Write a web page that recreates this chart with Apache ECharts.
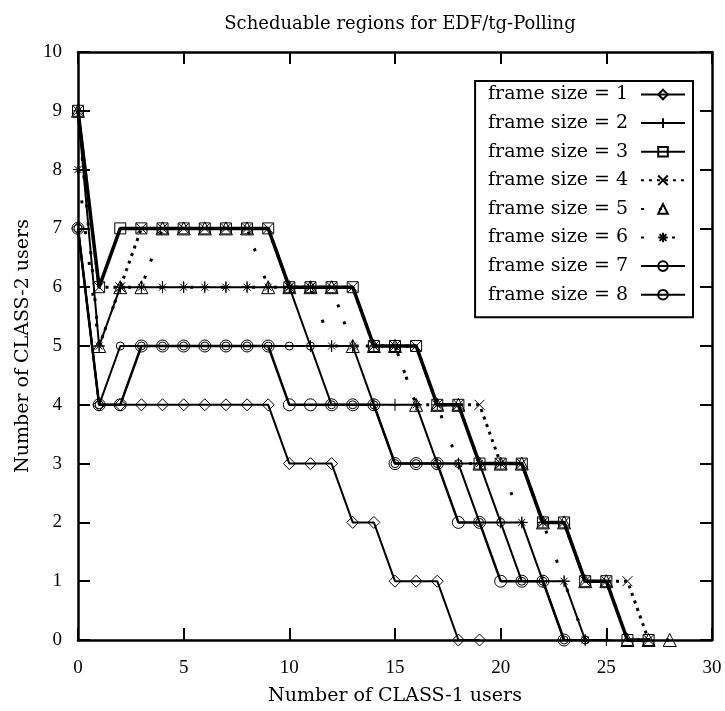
<!DOCTYPE html>
<html><head><meta charset="utf-8">
<script src="https://cdn.jsdelivr.net/npm/echarts@6/dist/echarts.min.js"></script>
<style>html,body{margin:0;padding:0;background:#fff}#c{width:725px;height:711px}</style>
</head><body><div id="c"></div>
<script>
// x = number of CLASS-1 users (index), value = max number of CLASS-2 users
const seriesNames = ['frame size = 1','frame size = 2','frame size = 3','frame size = 4','frame size = 5','frame size = 6','frame size = 7','frame size = 8'];
const fs1 = [7,4,4,4,4,4,4,4,4,4,3,3,3,2,2,1,1,1,0,0];
const fs2 = [9,5,6,6,6,6,6,6,6,6,6,5,5,5,4,4,4,3,3,3,2,2,1,1,0,0];
const fs3 = [9,6,7,7,7,7,7,7,7,7,6,6,6,6,5,5,5,4,4,3,3,3,2,2,1,1,0,0];
const fs4 = [9,6,6,7,7,7,7,7,7,7,6,6,6,6,5,5,5,4,4,4,3,3,2,2,1,1,1,0];
const fs5 = [9,5,6,6,7,7,7,7,7,6,6,6,6,5,5,5,4,4,4,3,3,3,2,2,1,1,0,0,0];
const fs6 = [8,5,6,6,6,6,6,6,6,6,6,6,5,5,5,5,4,4,3,3,3,2,2,1,0];
const fs7 = [7,4,5,5,5,5,5,5,5,5,5,5,4,4,4,3,3,3,3,2,2,1,1,0,0];
const fs8 = [7,4,4,5,5,5,5,5,5,5,4,4,4,4,4,3,3,3,2,2,1,1,1,0];
const xTickValues = [0,5,10,15,20,25,30];
const yTickValues = [0,1,2,3,4,5,6,7,8,9,10];

const TFONT = 'DejaVu Serif';
const NFONT = 'Liberation Serif';
const PLUS = 'path://M0,5L10,5M5,0L5,10';
const CROSS = 'path://M0,0L10,10M10,0L0,10';
const STAR = 'path://M0,5L10,5M5,0L5,10M1.5,1.5L8.5,8.5M8.5,1.5L1.5,8.5';

const styles = [
  {symbol:'diamond', size:12, w:2, t:'solid'},
  {symbol:PLUS, size:12, w:2, t:'solid'},
  {symbol:'rect', size:11, w:3.5, t:'solid'},
  {symbol:CROSS, size:10, w:3, t:[3,5]},
  {symbol:'triangle', size:13, w:3, t:[3,15,3,26]},
  {symbol:STAR, size:10, w:3, t:[3,28]},
  {symbol:'circle', size:8, w:2, t:'solid'},
  {symbol:'circle', size:12, w:2.5, t:'solid'}
];
const allData = [fs1,fs2,fs3,fs4,fs5,fs6,fs7,fs8];

const series = allData.map((ys,k)=>({
  name: seriesNames[k],
  type:'line',
  data: ys.map((y,i)=>[i,y]),
  symbol: styles[k].symbol,
  symbolSize: styles[k].size,
  showAllSymbol: true,
  clip: false,
  itemStyle:{color:'rgba(0,0,0,0)', borderColor:'#000', borderWidth:1},
  lineStyle:{color:'#000', width:styles[k].w, type:styles[k].t, cap:'butt'},
  emphasis:{disabled:true},
  z: 2 + k
}));

function axisCommon(){
  return {
    axisLine:{show:true, onZero:false, lineStyle:{color:'#000', width:2.5}},
    axisTick:{show:true, inside:true, length:12, lineStyle:{color:'#000', width:2}},
    splitLine:{show:false}
  };
}

const chart = echarts.init(document.getElementById('c'), null, {renderer:'canvas'});
chart.setOption({
  animation:false,
  backgroundColor:'#fff',
  title:{text:'Scheduable regions for EDF/tg-Polling', left:395, top:10, textAlign:'center',
    textStyle:{fontFamily:TFONT, fontSize:18, fontWeight:'normal', color:'#000'}},
  grid:{left:78, right:13, top:52, bottom:70, containLabel:false},
  legend:{orient:'vertical', right:32, top:81, align:'right', itemWidth:44, itemHeight:12, itemGap:7.6,
    padding:[3,7,12,13], borderColor:'#000', borderWidth:2, backgroundColor:'#fff',
    textStyle:{fontFamily:TFONT, fontSize:19, color:'#000', lineHeight:21, padding:[0,8,0,0]},
    data: seriesNames, selectedMode:false},
  xAxis:[
    Object.assign(axisCommon(), {type:'value', min:0, max:30, interval:5, position:'bottom',
      axisLabel:{margin:19, color:'#000', fontFamily:NFONT, fontSize:19,
        formatter:v=>xTickValues.includes(v)?String(v):''},
      name:'Number of CLASS-1 users', nameLocation:'middle', nameGap:47,
      nameTextStyle:{fontFamily:TFONT, fontSize:19, color:'#000'}}),
    Object.assign(axisCommon(), {type:'value', min:0, max:30, interval:5, position:'top', axisLabel:{show:false}})
  ],
  yAxis:[
    Object.assign(axisCommon(), {type:'value', min:0, max:10, interval:1, position:'left',
      axisLabel:{margin:16, color:'#000', fontFamily:NFONT, fontSize:19,
        formatter:v=>yTickValues.includes(v)?String(v):''},
      name:'Number of CLASS-2 users', nameLocation:'middle', nameGap:45,
      nameTextStyle:{fontFamily:TFONT, fontSize:19, color:'#000'}}),
    Object.assign(axisCommon(), {type:'value', min:0, max:10, interval:1, position:'right', axisLabel:{show:false}})
  ],
  series: series
});
</script></body></html>
